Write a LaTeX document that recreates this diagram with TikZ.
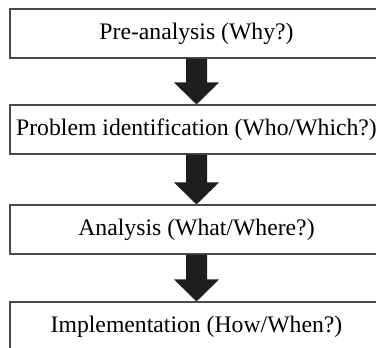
\documentclass[tikz,border=0pt]{standalone}
\usepackage{fontspec}
\setmainfont{Liberation Serif}
\usepackage{tikz}
\usetikzlibrary{positioning,calc}
\definecolor{frame}{HTML}{4A4A4A}
\definecolor{ink}{HTML}{1E1E1E}
\tikzset{
  stage/.style={draw=frame, line width=1.1pt, fill=white, minimum width=373pt, minimum height=49pt, inner sep=0pt, font=\fontsize{23.7}{28}\selectfont},
  blockarr/.style={fill=ink, draw=none},
}
\begin{document}
\begin{tikzpicture}[x=1pt, y=1pt]
        \clip (0,0) rectangle (376,348);
        \fill[white] (0,0) rectangle (376,348);
        \node[stage] (pre)  at (196.5,314.5) {Pre-analysis (Why?)};
        \node[stage] (prob) at (196.5,218.5) {Problem identification (Who/Which?)};
        \node[stage] (ana)  at (196.5,118.5) {Analysis (What/Where?)};
        \node[stage] (impl) at (196.5,21.5)  {Implementation (How/When?)};
        % block arrows between the stages
        \foreach \a/\b in {pre/prob, prob/ana, ana/impl}
          \fill[blockarr] ($(\a.south)+(-10.5,0)$) -- ($(\a.south)+(10.5,0)$)
            -- ($(\b.north)+(10.5,22)$) -- ($(\b.north)+(22.5,22)$)
            -- (\b.north) -- ($(\b.north)+(-22.5,22)$)
            -- ($(\b.north)+(-10.5,22)$) -- cycle;
      \end{tikzpicture}
\end{document}
